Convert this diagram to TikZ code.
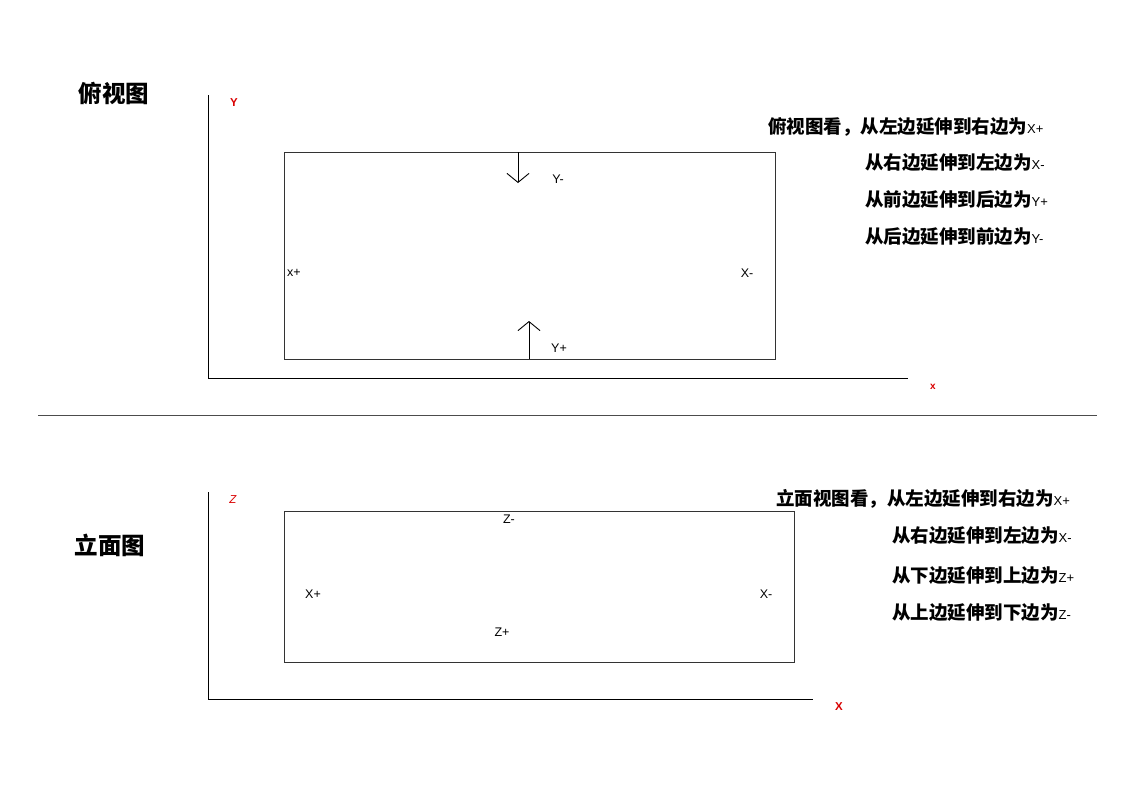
\documentclass[tikz,border=0pt]{standalone}
\usepackage{fontspec}
\setmainfont{Liberation Sans}
\newfontfamily\cjk{Noto Sans CJK SC}
\usetikzlibrary{arrows.meta}
\tikzset{
  ax/.style={draw=black, line width=0.9pt},
  boxr/.style={draw=black!80, line width=0.9pt},
  axlab/.style={text=red!85!black, font=\bfseries\fontsize{11.5}{12}\selectfont, inner sep=0pt},
  small/.style={font=\fontsize{12.5}{13}\selectfont, inner sep=0pt},
  title/.style={font=\cjk\bfseries\fontsize{23.5}{25}\selectfont, inner sep=0pt},
  note/.style={font=\cjk\bfseries\fontsize{18.5}{20}\selectfont, inner sep=0pt, anchor=west},
  barb/.style={-{Straight Barb[length=9pt,width=22pt,line width=0.9pt]}, line width=0.9pt}
}
\newcommand{\lat}[1]{{\fontsize{13}{14}\selectfont\rmfamily\mdseries #1}}
\begin{document}
\begin{tikzpicture}[x=1pt,y=-1pt]
\useasboundingbox (0,0) rectangle (1122,793);
% ---------- top view ----------
\node[title] (t1) at (114,93) {俯视图};
\coordinate (o1) at (208,378);
\coordinate (y1) at (208,95);
\coordinate (x1) at (908,378);
\draw[ax] (y1) -- (o1) -- (x1);
\node[axlab] (ly1) at (234,103) {Y};
\node[axlab, font=\bfseries\fontsize{10}{11}\selectfont] (lx1) at (933,387) {x};
\node[boxr, minimum width=491pt, minimum height=207pt, inner sep=0pt, anchor=north west] (r1) at (284,152) {};
\coordinate (a1s) at (518,152);
\coordinate (a1e) at (518,183);
\draw[barb] (a1s) -- (a1e);
\coordinate (a2s) at (529,359);
\coordinate (a2e) at (529,321);
\draw[barb] (a2s) -- (a2e);
\node[small] (ym) at (558,179) {Y-};
\node[small] (yp) at (559,348) {Y+};
\node[small] (xp1) at (294,273) {x+};
\node[small] (xm1) at (747,273) {X-};
\node[note] (n11) at (768,127) {俯视图看，从左边延伸到右边为\lat{X+}};
\node[note] (n12) at (865,163) {从右边延伸到左边为\lat{X-}};
\node[note] (n13) at (865,200) {从前边延伸到后边为\lat{Y+}};
\node[note] (n14) at (865,237) {从后边延伸到前边为\lat{Y-}};
% ---------- separator ----------
\coordinate (s1) at (38,415);
\coordinate (s2) at (1097,415);
\draw[draw=black!70, line width=0.9pt] (s1) -- (s2);
% ---------- elevation ----------
\node[title] (t2) at (110,545) {立面图};
\coordinate (o2) at (208,699);
\coordinate (z2) at (208,492);
\coordinate (x2) at (813,699);
\draw[ax] (z2) -- (o2) -- (x2);
\node[axlab, font=\itshape\fontsize{11.5}{12}\selectfont] (lz2) at (233,500) {Z};
\node[axlab] (lx2) at (839,707) {X};
\node[boxr, minimum width=510pt, minimum height=151pt, inner sep=0pt, anchor=north west] (r2) at (284,511) {};
\node[small] (zm) at (509,519) {Z-};
\node[small] (xp2) at (313,594) {X+};
\node[small] (xm2) at (766,594) {X-};
\node[small] (zp) at (502,632) {Z+};
\node[note] (n21) at (776,499) {立面视图看，从左边延伸到右边为\lat{X+}};
\node[note] (n22) at (892,536) {从右边延伸到左边为\lat{X-}};
\node[note] (n23) at (892,576) {从下边延伸到上边为\lat{Z+}};
\node[note] (n24) at (892,613) {从上边延伸到下边为\lat{Z-}};
\end{tikzpicture}
\end{document}
